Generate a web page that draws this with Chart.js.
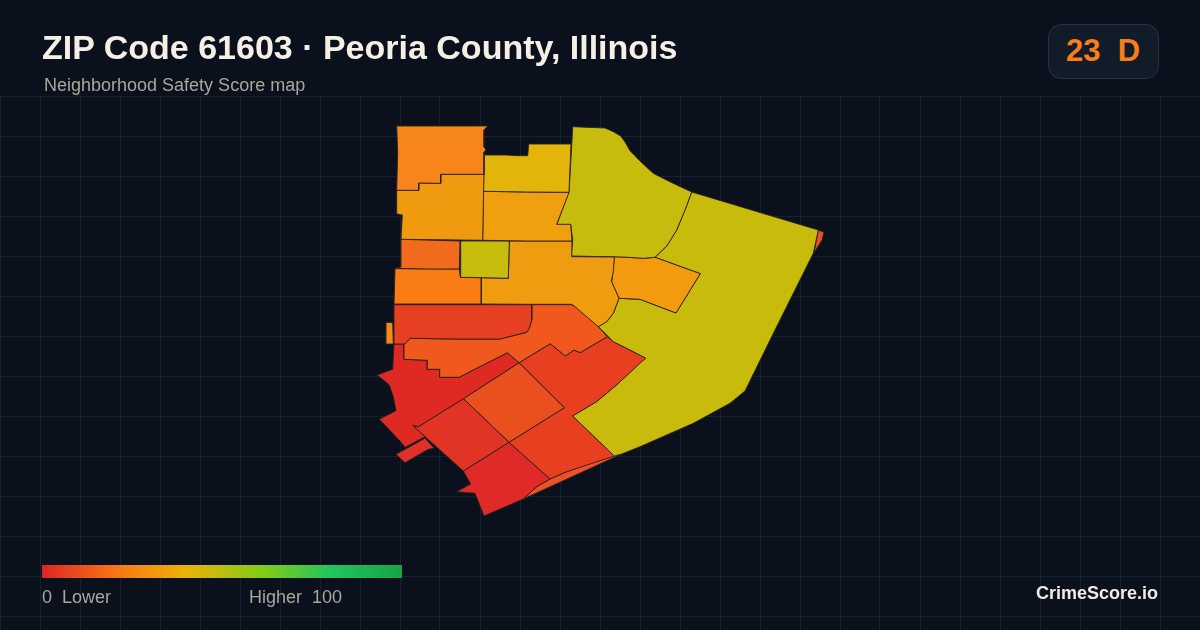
<!DOCTYPE html>
<html>
<head>
<meta charset="utf-8">
<title>ZIP Code 61603</title>
<script src="https://cdn.jsdelivr.net/npm/chart.js@4"></script>
<style>
html,body{margin:0;padding:0;width:1200px;height:630px;overflow:hidden;background:#0a111c;font-family:"Liberation Sans",Arial,sans-serif}
#wrap{position:relative;width:1200px;height:630px}
canvas{position:absolute;left:0;top:0}
.t{position:absolute;white-space:pre;line-height:1}
#title{left:42px;top:30px;font-size:34px;font-weight:700;color:#f5efe6}
#sub{left:44px;top:76px;font-size:18px;color:#aaa69b}
#badge{position:absolute;left:1048px;top:24px;width:109px;height:53px;border:1px solid #263341;border-radius:13px;background:#111c28}
#grade{left:1066px;top:35px;font-size:31px;font-weight:700;color:#f97d1a}
#bar{position:absolute;left:42px;top:565px;width:360px;height:13px;background:linear-gradient(90deg,#dc2626 0%,#f97316 20%,#eab308 40%,#84cc16 61%,#22c55e 80%,#16a34a 100%)}
#lo{left:42px;top:588px;font-size:18px;color:#aaa69b}
#hi{left:249px;top:588px;font-size:18px;color:#aaa69b}
#brand{right:42px;top:584px;font-size:18px;font-weight:700;color:#f0ece4}
</style>
</head>
<body>
<div id="wrap">
<canvas id="c" width="1200" height="630"></canvas>
<div class="t" id="title">ZIP Code 61603 · Peoria County, Illinois</div>
<div class="t" id="sub">Neighborhood Safety Score map</div>
<div id="badge"></div>
<div class="t" id="grade">23  D</div>
<div id="bar"></div>
<div class="t" id="lo">0  Lower</div>
<div class="t" id="hi">Higher  100</div>
<div class="t" id="brand">CrimeScore.io</div>
</div>
<script>
// Map grid
const gridX = [0,40,80,120,160,200,240,280,320,360,400,440,480,520,560,600,640,680,720,760,800,840,880,920,960,1000,1040,1080,1120,1160,1200];
const gridY = [96,136,176,216,256,296,336,376,416,456,496,536,576,616];

// Tract outlines, in map units
const tractA = [[396.7,126],[487.7,126],[484,130],[484,147],[486,150],[484,152],[484,174.3],[440.7,174.3],[440.7,183.3],[418.7,183],[418.7,190.3],[396.7,190.3],[397.7,152]];
const tractB = [[396.7,190.3],[418.7,190.3],[418.7,183],[440.7,183.3],[440.7,174.3],[484,174.3],[483.3,205],[482.7,240.3],[401,239.3],[402.3,215],[396,213.7]];
const tractC = [[484.3,155],[506,155],[516.7,155.7],[527.7,155.7],[528.7,144],[571,144],[569,192.3],[526.7,192],[483.3,191.3]];
const tractD = [[483.3,191.3],[526.7,192],[569,192.3],[556.7,224.3],[570.7,224.3],[572,241],[528.3,241],[482.7,240.3]];
const tractE = [[401,239.3],[460,241],[459.3,269],[428.3,269],[395,268.3],[401,267]];
const tractF = [[460.7,241],[509.3,241],[508.3,278.3],[483.3,277.7],[460.7,277.3]];
const tractG = [[395,268.7],[459.3,269],[460.3,277.3],[481.3,277.7],[481.3,304],[394,304]];
const tractH = [[509.3,241],[528.3,241],[572,241],[571.7,256.7],[614.3,257],[613.3,272],[611.3,281],[619,298.3],[613.3,313.3],[606.7,321.7],[598.3,326.7],[575,306.7],[571.7,304.3],[531.3,304.3],[481.3,304],[481.3,277.7],[508.3,278.3]];
const tractI = [[572.7,126.7],[605,128],[613.3,131.7],[620.7,136],[625,142],[630,150.7],[638.3,159.3],[646,166.7],[653.3,173.3],[668.3,181],[691.7,192],[685,210],[676.7,230],[666.7,246],[655,257.3],[643.3,258.3],[622.7,257],[571.3,256],[572.7,240],[570.7,224.7],[556.7,224.7],[569,191.7],[571.3,153.3]];
const tractJ = [[614.3,256.7],[622.7,257],[643.3,258.3],[655,257.3],[700.3,273.7],[676,313],[640,299.3],[619,298.3],[611.7,282.3],[613.3,266.7]];
const tractK = [[691.7,192],[818.3,230],[813.3,253.3],[775,330],[745,391],[730,403.3],[693.3,423.3],[640,446.7],[621.7,454],[614.3,456],[572.7,416],[596.7,401.7],[616.7,385],[641.7,361.7],[646,358.3],[626.7,348.3],[613.3,341.7],[601.7,330],[598.3,326.7],[606.7,321.7],[613.3,313.3],[619,298.3],[640,299.3],[676,313],[700.3,273.7],[655,257.3],[666.7,246],[676.7,230],[685,210]];
const tractL = [[818.3,230],[824,232.3],[821.7,240.7],[814,252.7]];
const tractM = [[386,322.3],[392.7,322.7],[393.3,344],[386,344]];
const tractN = [[394,304.7],[531.7,304.7],[531.7,320],[529.3,328.3],[526.7,332.3],[500,339],[453.3,339],[410,338.3],[405,344],[394,344]];
const tractO = [[531.7,304.7],[571.7,304.7],[576.7,307.3],[598.3,326.7],[607.3,336.7],[580,352.7],[574,350],[565.3,356],[550.3,343.7],[519,362.7],[507.3,352.7],[459,377.3],[439.7,377.3],[439.7,369.3],[427.3,369.3],[427.3,360.3],[404,359.3],[404,344],[410,338.3],[453.3,339],[500,339],[526.7,332.3],[529.3,328.3],[531.7,320]];
const tractP = [[394,344],[403.3,344],[404,359.3],[427.3,360.3],[427.3,369.3],[439.7,369.3],[439.7,377.3],[459,377.3],[507.3,352.7],[519,362.7],[463.3,398.7],[418.3,426.7],[412.7,425.3],[425,436.7],[405,447.3],[400.7,441.7],[379.3,419.3],[396,410.7],[393.3,396.7],[389.3,385],[377.3,375],[392.7,369.3]];
const tractQ = [[396,454.3],[425,438.3],[434,448],[428.3,449.3],[405,462.7]];
const tractR = [[418.3,426.7],[463.3,398.7],[509,442.3],[463.3,471],[413.3,426]];
const tractS = [[463.3,398.7],[519,362.7],[564.3,407.7],[509,442.3]];
const tractT = [[519,362.7],[550.3,343.7],[565.3,356],[574,350],[580,352.7],[607.3,336.7],[613.3,341.7],[626.7,348.3],[646,358.3],[616.7,385],[596.7,401.7],[572.7,416],[614.3,456],[566.7,471.7],[550,479],[509,442.3],[564.3,407.7]];
const tractV = [[463.3,471],[509,442.3],[550,479],[536.7,486.7],[523.3,499],[484,516],[475,493.3],[456.7,491.7],[470.7,484]];
const tractW = [[523.3,499],[536.7,486.7],[550,479],[566.7,471.7],[613.3,455],[621.7,454]];

const tracts = [tractA,tractB,tractC,tractD,tractE,tractF,tractG,tractH,tractI,tractJ,tractK,tractL,tractM,tractN,tractO,tractP,tractQ,tractR,tractS,tractT,tractV,tractW];
const tractColors = ['#f7861a','#f09a10','#e3b40a','#efa00f','#f26a1b','#c8bc0c','#f97c15','#f09c10','#c7bc0d','#f49a0f','#c9bb0c','#e8502a','#f5881a','#e63f21','#f0581d','#df2a24','#e0302a','#e23425','#ea4f1e','#e83f20','#df2a28','#eb5326'];

const datasets = tracts.map((pts,i)=>({
  data: pts.concat([pts[0]]).map(p=>({x:p[0],y:p[1]})),
  showLine:true, fill:'shape', tension:0,
  backgroundColor:tractColors[i], borderColor:'#2a2320', borderWidth:0.9,
  pointRadius:0, pointHoverRadius:0
}));

new Chart(document.getElementById('c'),{
  type:'scatter',
  data:{datasets},
  options:{
    responsive:false, animation:false, events:[],
    layout:{padding:{top:96,left:0,right:0,bottom:0}},
    plugins:{legend:{display:false},tooltip:{enabled:false},title:{display:false}},
    scales:{
      x:{type:'linear',min:0,max:1200,
        afterBuildTicks:s=>{s.ticks=gridX.map(v=>({value:v}))},
        ticks:{display:false},border:{display:false},
        grid:{color:'#15222d',lineWidth:1,drawTicks:false}},
      y:{type:'linear',min:96,max:630,reverse:true,
        afterBuildTicks:s=>{s.ticks=gridY.map(v=>({value:v}))},
        ticks:{display:false},border:{display:false},
        grid:{color:'#15222d',lineWidth:1,drawTicks:false}}
    }
  }
});
</script>
</body>
</html>
